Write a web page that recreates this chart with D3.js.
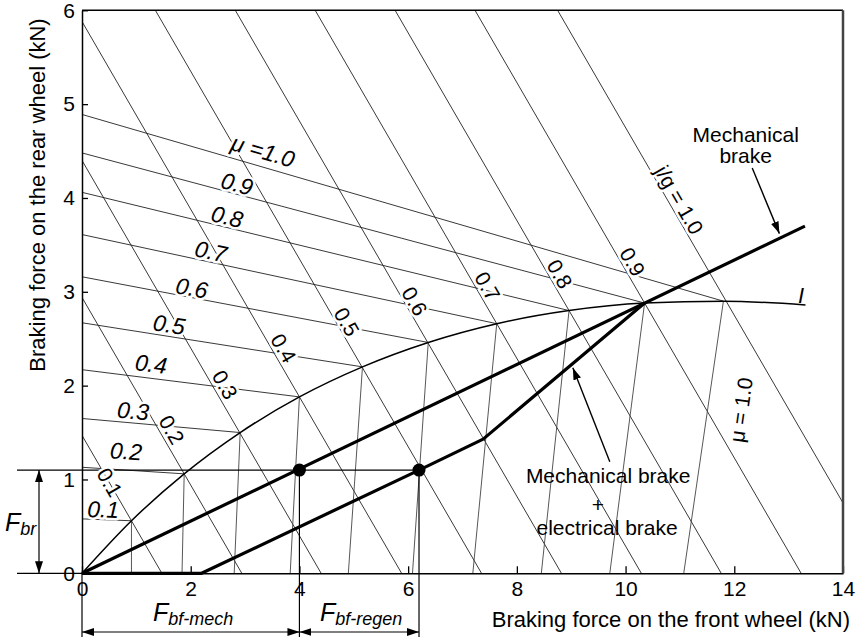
<!DOCTYPE html>
<html>
<head>
<meta charset="utf-8">
<script src="https://cdn.jsdelivr.net/npm/d3@7"></script>
<style>
body { margin: 0; background: #fff; }
svg text { font-family: "Liberation Sans", Arial, Helvetica, sans-serif; }
.halo { paint-order: stroke; stroke: #fff; stroke-width: 5px; stroke-linejoin: round; }
</style>
</head>
<body>
<script>
var w = 859;
var h = 642;

// axes
var xTicks = [0, 2, 4, 6, 8, 10, 12, 14];
var yTicks = [0, 1, 2, 3, 4, 5, 6];

// constant deceleration lines (Ff + Fr = total, kN)
var jgValues = [0.1, 0.2, 0.3, 0.4, 0.5, 0.6, 0.7, 0.8, 0.9, 1.0];
var jgTotals = [1.47, 2.94, 4.40, 5.88, 7.35, 8.82, 10.29, 11.76, 13.23, 14.75];

// ideal braking force distribution curve I (mu = j/g = 0 ... 1.1)
var idealFf = [0, 0.91, 1.88, 2.91, 4.00, 5.16, 6.37, 7.63, 8.96, 10.35, 11.80, 13.31];
var idealFr = [0, 0.56, 1.06, 1.50, 1.88, 2.20, 2.46, 2.66, 2.80, 2.88, 2.90, 2.86];

// road adhesion lines
var muValues = [0.1, 0.2, 0.3, 0.4, 0.5, 0.6, 0.7, 0.8, 0.9, 1.0];
var rearLockFr0 = [0.58, 1.13, 1.65, 2.17, 2.67, 3.16, 3.61, 4.06, 4.48, 4.89];   // at Ff = 0
var frontLockFf0 = [0.91, 1.84, 2.80, 3.83, 4.90, 6.08, 7.19, 8.45, 9.71, 11.07]; // at Fr = 0

// brake distribution lines
var mechFf = [0, 13.3];
var mechFr = [0, 3.70];
var combFf = [0, 2.2, 6.2, 7.38, 10.35];
var combFr = [0, 0, 1.1, 1.43, 2.88];

// operating points
var pointFf = [4.0, 6.2];
var pointFr = [1.1, 1.1];

var x = d3.scaleLinear().domain([0, 14]).range([82, 843]);
var y = d3.scaleLinear().domain([0, 6]).range([573.3, 10.3]);

var svg = d3.select("body").append("svg")
    .attr("width", w)
    .attr("height", h);

var defs = svg.append("defs");
defs.append("marker")
    .attr("id", "arr")
    .attr("viewBox", "0 0 12 8")
    .attr("refX", 12).attr("refY", 4)
    .attr("markerWidth", 12).attr("markerHeight", 8)
    .attr("markerUnits", "userSpaceOnUse")
    .attr("orient", "auto-start-reverse")
    .append("path").attr("d", "M0,0L12,4L0,8z").attr("fill", "#000");
defs.append("clipPath").attr("id", "plot")
    .append("rect")
    .attr("x", x(0)).attr("y", y(6))
    .attr("width", x(14) - x(0)).attr("height", y(0) - y(6));

var line = d3.line().x(function (d) { return x(d[0]); }).y(function (d) { return y(d[1]); });

var thin = svg.append("g").attr("clip-path", "url(#plot)")
    .attr("fill", "none").attr("stroke", "#222").attr("stroke-width", 0.9);

// j/g lines
thin.selectAll(".jg")
    .data(jgTotals)
    .enter().append("path")
    .attr("d", function (c) {
        return line([[Math.max(0, c - 6), Math.min(c, 6)], [Math.min(c, 14), Math.max(0, c - 14)]]);
    });

// rear wheel lock lines, end on I curve
thin.selectAll(".rl")
    .data(muValues)
    .enter().append("path")
    .attr("d", function (m, i) {
        return line([[0, rearLockFr0[i]], [idealFf[i + 1], idealFr[i + 1]]]);
    });

// front wheel lock lines, end on I curve
thin.selectAll(".fl")
    .data(muValues)
    .enter().append("path")
    .attr("stroke", "#444")
    .attr("d", function (m, i) {
        return line([[frontLockFf0[i], 0], [idealFf[i + 1], idealFr[i + 1]]]);
    });

// dimension / extension lines
var dim = svg.append("g").attr("stroke", "#000").attr("stroke-width", 1.2).attr("fill", "none");
dim.append("line").attr("x1", 17).attr("x2", x(pointFf[1])).attr("y1", y(pointFr[0])).attr("y2", y(pointFr[0]));
dim.append("line").attr("x1", 17).attr("x2", x(0)).attr("y1", y(0)).attr("y2", y(0));
dim.append("line").attr("x1", x(0)).attr("x2", x(0)).attr("y1", y(0)).attr("y2", 637);
dim.append("line").attr("x1", x(pointFf[0])).attr("x2", x(pointFf[0])).attr("y1", y(pointFr[0])).attr("y2", 637);
dim.append("line").attr("x1", x(pointFf[1])).attr("x2", x(pointFf[1])).attr("y1", y(pointFr[1])).attr("y2", 637);
dim.append("line").attr("x1", 39).attr("x2", 39).attr("y1", y(0)).attr("y2", y(pointFr[0]))
    .attr("marker-start", "url(#arr)").attr("marker-end", "url(#arr)");
dim.append("line").attr("x1", x(0)).attr("x2", x(pointFf[0])).attr("y1", 632).attr("y2", 632)
    .attr("marker-start", "url(#arr)").attr("marker-end", "url(#arr)");
dim.append("line").attr("x1", x(pointFf[0])).attr("x2", x(pointFf[1])).attr("y1", 632).attr("y2", 632)
    .attr("marker-start", "url(#arr)").attr("marker-end", "url(#arr)");

// labels for lines (white halo cuts the thin lines like the original)
var jgLabelPos = [[0.51, 0.97], [1.65, 1.53], [2.63, 2.01], [3.71, 2.40], [4.87, 2.68],
                  [6.12, 2.90], [7.46, 3.06], [8.79, 3.19], [10.13, 3.32], [10.99, 3.98]];
svg.selectAll(".jglab")
    .data(jgValues)
    .enter().append("text")
    .attr("class", "halo")
    .attr("font-size", 21)
    .attr("text-anchor", "middle")
    .attr("dominant-baseline", "central")
    .attr("transform", function (d, i) {
        return "translate(" + x(jgLabelPos[i][0]) + "," + y(jgLabelPos[i][1]) + ") rotate(60)";
    })
    .text(function (d) { return d === 1 ? "j/g = 1.0" : d3.format(".1f")(d); });

var rearLabelPos = [[0.39, 0.68], [0.81, 1.30], [0.94, 1.73], [1.27, 2.23], [1.60, 2.65],
                    [2.02, 3.04], [2.37, 3.43], [2.67, 3.80], [2.85, 4.15], [3.33, 4.50]];
svg.selectAll(".rlab")
    .data(muValues)
    .enter().append("text")
    .attr("class", "halo")
    .attr("font-size", 23)
    .attr("font-style", "italic")
    .attr("text-anchor", "middle")
    .attr("dominant-baseline", "central")
    .attr("transform", function (d, i) {
        var a = Math.atan2(y(idealFr[i + 1]) - y(rearLockFr0[i]), x(idealFf[i + 1]) - x(0)) * 180 / Math.PI;
        return "translate(" + x(rearLabelPos[i][0]) + "," + y(rearLabelPos[i][1]) + ") rotate(" + a + ")";
    })
    .text(function (d) { return d === 1 ? "\u03bc =1.0" : d3.format(".1f")(d); });

svg.append("text")
    .attr("class", "halo")
    .attr("font-size", 21)
    .attr("text-anchor", "middle")
    .attr("dominant-baseline", "central")
    .attr("transform", "translate(" + x(12.12) + "," + y(1.74) + ") rotate(-82)")
    .text("\u03bc = 1.0");

// ideal curve
svg.append("path")
    .datum(idealFf.map(function (d, i) { return [d, idealFr[i]]; }))
    .attr("fill", "none").attr("stroke", "#000").attr("stroke-width", 1.5)
    .attr("d", line.curve(d3.curveMonotoneX));
line.curve(d3.curveLinear);

svg.append("text")
    .attr("x", x(13.23)).attr("y", y(2.88))
    .attr("font-size", 22).attr("font-style", "italic")
    .attr("text-anchor", "middle")
    .text("I");

// heavy brake lines
svg.append("path")
    .datum(mechFf.map(function (d, i) { return [d, mechFr[i]]; }))
    .attr("fill", "none").attr("stroke", "#000").attr("stroke-width", 3.2)
    .attr("d", line);
svg.append("path")
    .datum(combFf.map(function (d, i) { return [d, combFr[i]]; }))
    .attr("fill", "none").attr("stroke", "#000").attr("stroke-width", 3.2)
    .attr("stroke-linejoin", "round")
    .attr("d", line);

svg.selectAll(".pt")
    .data(pointFf)
    .enter().append("circle")
    .attr("cx", function (d) { return x(d); })
    .attr("cy", function (d, i) { return y(pointFr[i]); })
    .attr("r", 6.5)
    .attr("fill", "#000");

// axes
var xAxis = svg.append("g")
    .attr("transform", "translate(0," + y(0) + ")")
    .call(d3.axisBottom(x).tickValues(xTicks).tickSize(-7).tickSizeOuter(0).tickPadding(8).tickFormat(d3.format("d")));
var yAxis = svg.append("g")
    .attr("transform", "translate(" + x(0) + ",0)")
    .call(d3.axisLeft(y).tickValues(yTicks).tickSize(-6).tickSizeOuter(0).tickPadding(7).tickFormat(d3.format("d")));
[xAxis, yAxis].forEach(function (g) {
    g.attr("font-size", 21).attr("font-family", "Liberation Sans, Arial, sans-serif");
    g.select(".domain").attr("stroke-width", 1.5);
    g.selectAll(".tick line").attr("stroke-width", 1.3);
    g.selectAll(".tick text").attr("fill", "#000");
});
svg.append("line")
    .attr("x1", x(0)).attr("x2", x(14)).attr("y1", y(6)).attr("y2", y(6))
    .attr("stroke", "#000").attr("stroke-width", 1.5);
svg.append("line")
    .attr("x1", x(14)).attr("x2", x(14)).attr("y1", y(6)).attr("y2", y(0))
    .attr("stroke", "#444").attr("stroke-width", 2.5);

// axis titles
svg.append("text")
    .attr("x", 850).attr("y", 627)
    .attr("text-anchor", "end")
    .attr("font-size", 22)
    .text("Braking force on the front wheel (kN)");
svg.append("text")
    .attr("transform", "translate(45,195) rotate(-90)")
    .attr("text-anchor", "middle")
    .attr("font-size", 22)
    .text("Braking force on the rear wheel (kN)");

// annotations
var note = svg.append("g").attr("font-size", 21).attr("text-anchor", "middle");
note.append("text").attr("x", x(12.21)).attr("y", y(4.60)).text("Mechanical");
note.append("text").attr("x", x(12.21)).attr("y", y(4.37)).text("brake");
note.append("text").attr("x", x(9.68)).attr("y", y(0.96)).text("Mechanical brake");
note.append("text").attr("x", x(9.49)).attr("y", y(0.65)).text("+");
note.append("text").attr("x", x(9.66)).attr("y", y(0.41)).text("electrical brake");

svg.append("line")
    .attr("x1", x(12.33)).attr("y1", y(4.32)).attr("x2", x(12.83)).attr("y2", y(3.62))
    .attr("stroke", "#000").attr("stroke-width", 1.4).attr("marker-end", "url(#arr)");
svg.append("line")
    .attr("x1", x(9.71)).attr("y1", y(1.19)).attr("x2", x(9.03)).attr("y2", y(2.19))
    .attr("stroke", "#000").attr("stroke-width", 1.4).attr("marker-end", "url(#arr)");

function forceLabel(px, py, sub) {
    var t = svg.append("text").attr("x", px).attr("y", py).attr("font-style", "italic");
    t.append("tspan").attr("font-size", 25).text("F");
    t.append("tspan").attr("font-size", 18).attr("dy", 4).text(sub);
}
forceLabel(5, 531, "br");
forceLabel(153, 621, "bf-mech");
forceLabel(320, 621, "bf-regen");
</script>
</body>
</html>
